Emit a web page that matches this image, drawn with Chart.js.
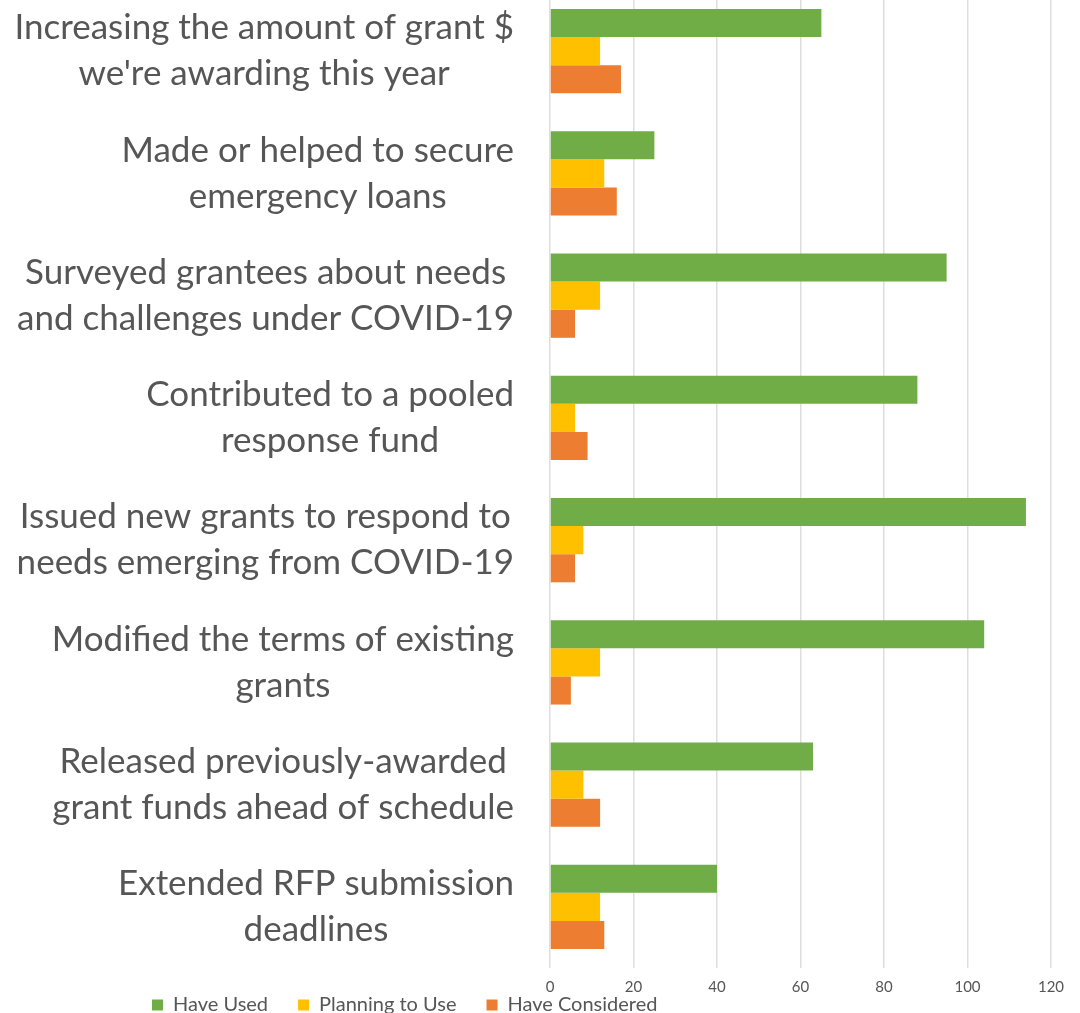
<!DOCTYPE html>
<html>
<head>
<meta charset="utf-8">
<script src="https://cdn.jsdelivr.net/npm/chart.js@4.4.0/dist/chart.umd.min.js"></script>
<style>
  html, body { margin: 0; padding: 0; background: #fff; overflow: hidden; }
  #wrap { position: absolute; left: 0; top: -10px; width: 1080px; height: 1076px; }
</style>
</head>
<body>
<div id="wrap"><canvas id="grafico"></canvas></div>
<script>
// ------- datos -------
const categorias = [
  ["Increasing the amount of grant $", "we're awarding this year"],
  ["Made or helped to secure", "emergency loans"],
  ["Surveyed grantees about needs", "and challenges under COVID-19"],
  ["Contributed to a pooled", "response fund"],
  ["Issued new grants to respond to", "needs emerging from COVID-19"],
  ["Modified the terms of existing", "grants"],
  ["Released previously-awarded", "grant funds ahead of schedule"],
  ["Extended RFP submission", "deadlines"]
];
const haveUsed       = [65, 25, 95, 88, 114, 104, 63, 40];
const planningToUse  = [12, 13, 12, 6, 8, 12, 8, 12];
const haveConsidered = [17, 16, 6, 9, 6, 5, 12, 13];
const ticksX = [0, 20, 40, 60, 80, 100, 120];

const GRIS = '#565656';
const FUENTE = 'Lato';

// ------- etiquetas del eje Y: bloque alineado a la derecha, lineas centradas -------
const etiquetasY = {
  id: 'etiquetasY',
  afterDraw(chart) {
    const ctx = chart.ctx;
    const yScale = chart.scales.y;
    const derecha = yScale.right - 36;
    const alto = 46;
    ctx.save();
    ctx.font = `35px ${FUENTE}`;
    ctx.fillStyle = GRIS;
    ctx.textAlign = 'center';
    ctx.textBaseline = 'middle';
    categorias.forEach((lineas, i) => {
      const y = yScale.getPixelForValue(i);
      const ancho = Math.max(...lineas.map(l => ctx.measureText(l).width));
      const cx = derecha - ancho / 2;
      const y0 = y - (lineas.length - 1) * alto / 2;
      lineas.forEach((l, j) => ctx.fillText(l, cx, y0 + j * alto));
    });
    ctx.restore();
  }
};

// la leyenda queda abajo a la izquierda, pegada a los ticks, como en el original
const moverLeyenda = {
  id: 'moverLeyenda',
  afterLayout(chart) {
    const lg = chart.legend;
    if (!lg) return;
    const alto = lg.bottom - lg.top;
    lg.left = 122;
    lg.right = 760;
    lg.top = chart.chartArea.bottom - 3;
    lg.bottom = lg.top + alto;
  }
};

const ctx = document.getElementById('grafico').getContext('2d');
new Chart(ctx, {
  type: 'bar',
  data: {
    labels: categorias.map(c => c.join(' ')),
    datasets: [
      { label: 'Have Used', data: haveUsed, backgroundColor: '#70AD47' },
      { label: 'Planning to Use', data: planningToUse, backgroundColor: '#FFC000' },
      { label: 'Have Considered', data: haveConsidered, backgroundColor: '#ED7D31' }
    ]
  },
  options: {
    indexAxis: 'y',
    responsive: true,
    maintainAspectRatio: false,
    animation: false,
    datasets: { bar: { categoryPercentage: 0.69, barPercentage: 1.0 } },
    layout: { padding: { left: 0, right: 29, top: 0, bottom: 0 } },
    scales: {
      x: {
        min: ticksX[0],
        max: ticksX[ticksX.length - 1],
        afterBuildTicks: s => { s.ticks = ticksX.map(v => ({ value: v })); },
        grid: { color: '#dedede', lineWidth: 1.5, drawTicks: false },
        border: { display: false },
        ticks: { color: GRIS, font: { family: FUENTE, size: 15 }, padding: 10 }
      },
      y: {
        grid: { display: false },
        border: { display: false },
        ticks: { display: false },
        afterFit: s => { s.width = 550; }
      }
    },
    plugins: {
      legend: {
        position: 'bottom',
        align: 'start',
        labels: {
          boxWidth: 11, boxHeight: 11, padding: 30,
          color: GRIS, font: { family: FUENTE, size: 20 }
        }
      },
      tooltip: { enabled: false }
    }
  },
  plugins: [etiquetasY, moverLeyenda]
});
</script>
</body>
</html>
